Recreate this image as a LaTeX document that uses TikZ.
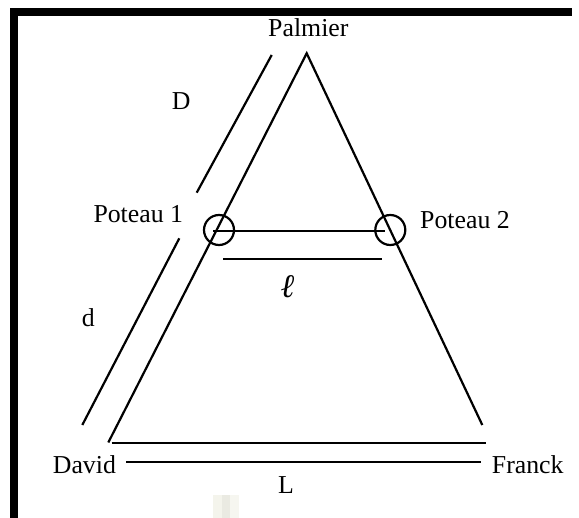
\documentclass[tikz,border=0pt]{standalone}
\usepackage{fontspec}
\setmainfont{Liberation Serif}
\tikzset{
  ln/.style={line width=2.2bp,black},
  lbl/.style={inner sep=0pt,anchor=base west,font={\fontsize{25.8bp}{30bp}\selectfont}},
  elllbl/.style={inner sep=0pt,anchor=base west,font={\fontsize{33bp}{36bp}\selectfont\bfseries\itshape}},
  post/.style={circle,draw,line width=2.2bp,minimum size=30bp,inner sep=0pt}
}
\begin{document}
\begin{tikzpicture}[x=1bp,y=-1bp]
\useasboundingbox (0,0) rectangle (579,518);
% border bars
\fill[black] (10,8) rectangle (572,16.5);
\fill[black] (10,8) rectangle (18.3,518);
% faint patch
\fill[color={rgb,255:red,244;green,244;blue,236}] (213,495) rectangle (222,518);
\fill[color={rgb,255:red,234;green,234;blue,226}] (222,495) rectangle (230,518);
\fill[color={rgb,255:red,246;green,246;blue,240}] (230,495) rectangle (239,518);
% coordinates
\coordinate (apex) at (306.7,53.3);
\coordinate (bl) at (108.3,442.5);
\coordinate (br) at (482.3,425);
\coordinate (b1s) at (111.7,443);
\coordinate (b1e) at (485.7,443);
\coordinate (b2s) at (126,462);
\coordinate (b2e) at (480.7,462);
\coordinate (pu1) at (271.7,55);
\coordinate (pu2) at (196.7,192.7);
\coordinate (pl1) at (179.3,238.3);
\coordinate (pl2) at (82.3,425);
\coordinate (h1) at (213,231);
\coordinate (h2) at (385,231);
\coordinate (l1) at (223,259);
\coordinate (l2) at (382,259);
% triangle
\draw[ln] (bl) -- (apex) -- (br);
\draw[ln] (b1s) -- (b1e);
\draw[ln] (b2s) -- (b2e);
% parallel segments
\draw[ln] (pu1) -- (pu2);
\draw[ln] (pl1) -- (pl2);
% posts
\node[post] (p1) at (219,230) {};
\node[post] (p2) at (390.3,230) {};
\draw[ln] (h1) -- (h2);
\draw[ln] (l1) -- (l2);
% labels
\node[lbl] (palm) at (268,36.5) {Palmier};
\node[lbl] (D) at (171.7,110) {D};
\node[lbl] (pt1) at (93.3,222.7) {Poteau 1};
\node[lbl] (pt2) at (420,228.3) {Poteau 2};
\node[lbl] (d) at (81.7,326) {d};
\node[lbl] (david) at (52.7,473) {David};
\node[lbl] (franck) at (491.7,473) {Franck};
\node[lbl] (L) at (278,493.3) {L};
\node[elllbl] (ellnode) at (281,297.5) {ℓ};
\end{tikzpicture}
\end{document}
